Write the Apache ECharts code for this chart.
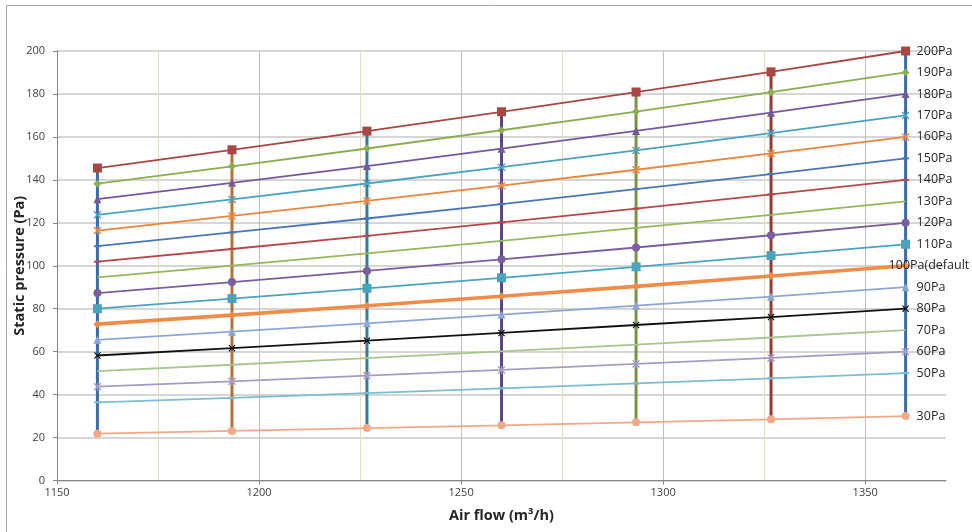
<!DOCTYPE html>
<html>
<head>
<meta charset="utf-8">
<script src="https://cdn.jsdelivr.net/npm/echarts@6/dist/echarts.min.js"></script>
<style>
html,body{margin:0;padding:0;background:#fff;}
#chart{width:972px;height:532px;}
</style>
</head>
<body>
<div id="chart"></div>
<script>
// ---- data ----
const airflow = [1160, 1193.3, 1226.7, 1260, 1293.3, 1326.7, 1360];
const xTicks = [1150, 1200, 1250, 1300, 1350];
const yTicks = [0, 20, 40, 60, 80, 100, 120, 140, 160, 180, 200];

const p200 = [145.5, 154.0, 162.7, 171.7, 180.9, 190.3, 200];
const p190 = [138.2, 146.3, 154.6, 163.1, 171.8, 180.8, 190];
const p180 = [131.0, 138.6, 146.4, 154.5, 162.8, 171.3, 180];
const p170 = [123.7, 130.9, 138.3, 145.9, 153.7, 161.8, 170];
const p160 = [116.4, 123.2, 130.2, 137.3, 144.7, 152.3, 160];
const p150 = [109.1, 115.5, 122.0, 128.7, 135.7, 142.7, 150];
const p140 = [101.9, 107.8, 113.9, 120.2, 126.6, 133.2, 140];
const p130 = [94.6, 100.1, 105.8, 111.6, 117.6, 123.7, 130];
const p120 = [87.3, 92.4, 97.6, 103.0, 108.5, 114.2, 120];
const p110 = [80.0, 84.7, 89.5, 94.4, 99.5, 104.7, 110];
const p100 = [72.8, 77.0, 81.4, 85.8, 90.4, 95.2, 100];
const p90  = [65.5, 69.3, 73.2, 77.2, 81.4, 85.6, 90];
const p80  = [58.2, 61.6, 65.1, 68.7, 72.4, 76.1, 80];
const p70  = [50.9, 53.9, 57.0, 60.1, 63.3, 66.6, 70];
const p60  = [43.7, 46.2, 48.8, 51.5, 54.3, 57.1, 60];
const p50  = [36.4, 38.5, 40.7, 42.9, 45.2, 47.6, 50];
const p30  = [21.8, 23.1, 24.4, 25.7, 27.1, 28.5, 30];

const seriesNames = ['200Pa','190Pa','180Pa','170Pa','160Pa','150Pa','140Pa','130Pa','120Pa','110Pa','100Pa(default','90Pa','80Pa','70Pa','60Pa','50Pa','30Pa'];
const seriesValues = [p200,p190,p180,p170,p160,p150,p140,p130,p120,p110,p100,p90,p80,p70,p60,p50,p30];

// ---- styles ----
const X_SYM = 'path://M0,1.2 L1.2,0 L5,3.8 L8.8,0 L10,1.2 L6.2,5 L10,8.8 L8.8,10 L5,6.2 L1.2,10 L0,8.8 L3.8,5 Z';
const STAR_SYM = 'path://M0,1.2 L1.2,0 L5,3.8 L8.8,0 L10,1.2 L6.2,5 L10,8.8 L8.8,10 L5,6.2 L1.2,10 L0,8.8 L3.8,5 Z M4.3,0 L5.7,0 L5.7,10 L4.3,10 Z';
const styles = [
  {c:'#A94643', sym:'rect', size:9, w:1.8},
  {c:'#8AAE4F', sym:'diamond', size:8, w:1.8},
  {c:'#75599A', sym:'triangle', size:8, w:1.8},
  {c:'#4AA3BD', sym:X_SYM, size:8, w:1.8},
  {c:'#E9853D', sym:STAR_SYM, size:8, w:1.8},
  {c:'#4A78B6', sym:'rect', size:[7,2], w:1.8},
  {c:'#B9474A', sym:'rect', size:[7,2], w:1.8},
  {c:'#95B85A', sym:'none', size:0, w:1.8},
  {c:'#7A5E9E', sym:'circle', size:8, w:1.8},
  {c:'#4BA4BE', sym:'rect', size:9, w:1.8},
  {c:'#F08C48', sym:'diamond', size:8, w:3.6},
  {c:'#8EA7D2', sym:'triangle', size:8, w:1.8},
  {c:'#111111', sym:X_SYM, size:7, w:1.8},
  {c:'#A8C690', sym:'none', size:0, w:1.8},
  {c:'#A69BC2', sym:STAR_SYM, size:8, w:1.8},
  {c:'#7EBCD0', sym:'rect', size:[7,2], w:1.8},
  {c:'#F4A888', sym:'circle', size:8, w:1.8}
];
const verticalColors = ['#3F6AA6','#B3733C','#2F7F96','#5C4785','#78924A','#953A38','#3F6AA6'];

const series = [];
// vertical connectors at each airflow point (from lowest to highest curve)
airflow.forEach((x, i) => {
  series.push({
    type:'line', name:'v'+i, z:2, silent:true, symbol:'none',
    lineStyle:{color:verticalColors[i], width:3},
    data:[[x, p30[i]], [x, p200[i]]]
  });
});
seriesNames.forEach((name, k) => {
  const s = styles[k];
  const isDefault = k === 10;
  series.push({
    type:'line', name:name, z:3,
    symbol:s.sym, symbolSize:s.size, showSymbol:s.sym !== 'none',
    itemStyle:{color:s.c, borderWidth:0},
    lineStyle:{color:s.c, width:s.w},
    data: airflow.map((x, i) => [x, seriesValues[k][i]]),
    endLabel:{
      show:true, formatter:name, distance:11,
      offset: isDefault ? [-28, 0] : [0, 0],
      color:'#262626', fontSize:12.5, fontFamily:'Open Sans'
    }
  });
});

const chart = echarts.init(document.getElementById('chart'), null, {renderer:'canvas'});
chart.setOption({
  animation:false,
  backgroundColor:'#ffffff',
  graphic:[{type:'rect', shape:{x:6.5, y:5.5, width:1200, height:1200}, style:{fill:'none', stroke:'#a6a6a6', lineWidth:1}, silent:true, z:-1}],
  grid:{left:57, right:26, top:51, bottom:51.5, containLabel:false, outerBoundsMode:'none'},
  xAxis:{
    type:'value', min:xTicks[0], max:1370, interval:xTicks[1]-xTicks[0],
    name:'Air flow (m³/h)', nameLocation:'middle', nameGap:28,
    nameTextStyle:{fontFamily:'Open Sans', fontWeight:'bold', fontSize:14.5, color:'#262626'},
    axisLine:{show:true, lineStyle:{color:'#868686', width:1}},
    axisTick:{show:true, length:4, lineStyle:{color:'#868686'}},
    axisLabel:{showMaxLabel:false, margin:7, fontFamily:'Open Sans', fontSize:11, color:'#404040',
      formatter: v => xTicks.includes(v) ? String(v) : ''},
    splitLine:{show:true, showMaxLine:false, lineStyle:{color:'#bfbfbf', width:1}},
    minorTick:{show:false, splitNumber:2},
    minorSplitLine:{show:true, lineStyle:{color:'#e2ddc9', width:1}}
  },
  yAxis:{
    type:'value', min:yTicks[0], max:yTicks[yTicks.length-1], interval:yTicks[1]-yTicks[0],
    name:'Static pressure (Pa)', nameLocation:'middle', nameGap:30, nameMoveOverlap:false,
    nameTextStyle:{fontFamily:'Open Sans', fontWeight:'bold', fontSize:14.5, color:'#262626'},
    axisLine:{show:true, lineStyle:{color:'#868686', width:1}},
    axisTick:{show:true, length:4, lineStyle:{color:'#868686'}},
    axisLabel:{margin:12, fontFamily:'Open Sans', fontSize:11, color:'#404040'},
    splitLine:{show:true, lineStyle:{color:'#d6d6d6', width:2}}
  },
  series: series
});
</script>
</body>
</html>
